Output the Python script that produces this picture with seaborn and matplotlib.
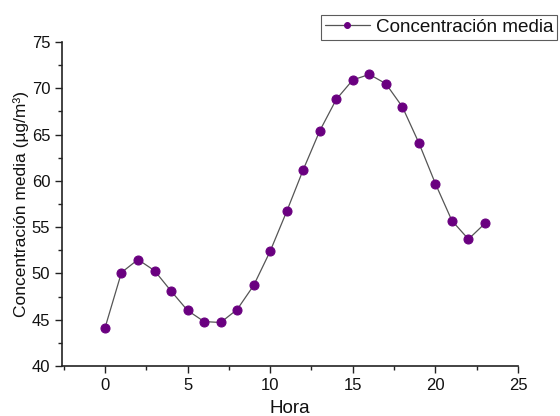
import matplotlib
matplotlib.use("Agg")
import matplotlib.pyplot as plt
import seaborn as sns
import pandas as pd
from matplotlib.ticker import MultipleLocator

hora = list(range(24))
concentracion = [44.1, 50.1, 51.5, 50.3, 48.1, 46.0, 44.8, 44.7, 46.1, 48.7, 52.4, 56.7,
                 61.2, 65.4, 68.8, 70.9, 71.5, 70.5, 68.0, 64.1, 59.7, 55.7, 53.7, 55.4]
serie = "Concentración media"
xlabel = "Hora"
ylabel = "Concentración media (µg/m³)"

df = pd.DataFrame({"Hora": hora, "Conc": concentracion})

sns.set_style("ticks")
plt.rcParams["font.family"] = ["Liberation Sans", "DejaVu Sans"]

fig = plt.figure(figsize=(5.6, 4.16), dpi=100)
ax = fig.add_axes([62/560, 50/416, (518-62)/560, (366-42)/416])

sns.lineplot(data=df, x="Hora", y="Conc", ax=ax, color="#555555", linewidth=0.9,
             marker="o", markersize=6.5, markerfacecolor="#6a0080",
             markeredgecolor="#6a0080", label=serie)

ax.set_xlim(-2.6, 25)
ax.set_ylim(40, 75)
ax.xaxis.set_major_locator(MultipleLocator(5))
ax.xaxis.set_minor_locator(MultipleLocator(2.5))
ax.yaxis.set_major_locator(MultipleLocator(5))
ax.yaxis.set_minor_locator(MultipleLocator(2.5))
ax.tick_params(which="major", direction="out", length=5, width=1, labelsize=12,
               color="#222222", labelcolor="#111111")
ax.tick_params(which="minor", direction="out", length=3, width=1, color="#222222")
for s in ["left", "bottom"]:
    ax.spines[s].set_linewidth(1.2)
    ax.spines[s].set_color("#222222")
sns.despine(ax=ax)

ax.set_xlabel(xlabel, fontsize=13.5, labelpad=5, color="#111111")
ax.set_ylabel(ylabel, fontsize=12.5, labelpad=2, color="#111111")

leg = ax.legend(loc="upper right", bbox_to_anchor=(557/560, 1 - 15/416),
                bbox_transform=fig.transFigure, fontsize=13.6, frameon=True,
                fancybox=False, edgecolor="#333333", borderpad=0.2,
                handlelength=2.4, handletextpad=0.3, borderaxespad=0,
                markerscale=0.65)
leg.get_frame().set_linewidth(0.8)
for t in leg.get_texts():
    t.set_color("#111111")

fig.savefig("out.png", dpi=100)
